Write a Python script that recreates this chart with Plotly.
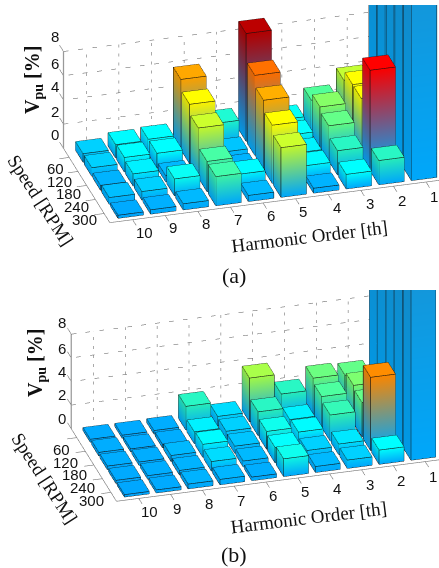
import numpy as np
import plotly.graph_objects as go

W, H = 439, 568

harmonics = [1, 2, 3, 4, 5, 6, 7, 8, 9, 10]
speeds = [60, 120, 180, 240, 300]
z_ticks = [0, 2, 4, 6, 8]

# heights per harmonic, listed for speeds 60,120,180,240,300
a_h1 = [100, 100, 100, 100, 100]
a_h2 = [4.0, 4.8, 4.8, 8.3, 2.0]
a_h3 = [2.7, 3.3, 2.9, 2.0, 1.2]
a_h4 = [1.4, 1.3, 1.0, 1.1, 0.4]
a_h5 = [8.9, 6.6, 5.7, 4.8, 4.1]
a_h6 = [1.8, 0.6, 0.4, 1.1, 0.5]
a_h7 = [5.8, 4.9, 4.1, 2.5, 2.4]
a_h8 = [1.2, 1.2, 0.5, 1.4, 0.5]
a_h9 = [1.1, 1.2, 1.0, 0.7, 0.35]
a_h10 = [0.7, 0.7, 0.4, 0.55, 0.25]

b_h1 = [100, 100, 100, 100, 100]
b_h2 = [2.9, 3.2, 2.9, 6.2, 1.2]
b_h3 = [3.0, 2.6, 2.2, 0.9, 0.7]
b_h4 = [2.0, 1.0, 1.1, 0.7, 0.5]
b_h5 = [3.7, 2.0, 1.5, 1.3, 1.5]
b_h6 = [0.8, 0.7, 0.6, 0.5, 0.3]
b_h7 = [2.0, 1.0, 1.1, 0.8, 0.45]
b_h8 = [0.3, 0.3, 0.5, 0.4, 0.4]
b_h9 = [0.25, 0.25, 0.3, 0.3, 0.25]
b_h10 = [0.25, 0.3, 0.3, 0.25, 0.2]

panel_a = [a_h1, a_h2, a_h3, a_h4, a_h5, a_h6, a_h7, a_h8, a_h9, a_h10]
panel_b = [b_h1, b_h2, b_h3, b_h4, b_h5, b_h6, b_h7, b_h8, b_h9, b_h10]

Z_TOP = 18.0
STOPS = [0, 0.5, 0.8, 1.2, 2.0, 2.7, 3.3, 4.0, 4.8, 5.7, 6.6, 8.3, 9.0]
RGB = [(0, 150, 255), (0, 180, 255), (0, 215, 255), (0, 255, 255), (40, 240, 190), (80, 250, 150),
       (130, 255, 100), (190, 250, 50), (255, 255, 0), (255, 170, 0), (255, 110, 0),
       (255, 0, 0), (170, 0, 0)]
BOTTOM = (0, 170, 255)
OVER = (25, 150, 215)


def top_color(v):
    if v > 20:
        return OVER
    return tuple(float(np.interp(v, STOPS, [c[i] for c in RGB])) for i in range(3))


def css(c, f=1.0):
    return "rgb(%d,%d,%d)" % tuple(min(255, int(round(v * f))) for v in c)


def bar_traces(panel):
    xs, ys, zs, cols, I, J, K = [], [], [], [], [], [], []
    ex, ey, ez = [], [], []
    hw, dw = 0.39, 0.43
    for hi, hv in enumerate(harmonics):
        for si in range(len(speeds)):
            v = panel[hi][si]
            t = min(v, Z_TOP)
            cx, cy = hv, si + 1
            x0, x1, y0, y1 = cx - hw, cx + hw, cy - dw, cy + dw
            tc = top_color(v)
            faces = [
                ([(x0, y1, 0), (x1, y1, 0), (x1, y1, t), (x0, y1, t)], 0.98, True),
                ([(x1, y0, 0), (x1, y1, 0), (x1, y1, t), (x1, y0, t)], 0.90, True),
                ([(x0, y0, 0), (x0, y1, 0), (x0, y1, t), (x0, y0, t)], 0.90, True),
                ([(x0, y0, t), (x1, y0, t), (x1, y1, t), (x0, y1, t)], 1.03, False),
            ]
            for verts, f, grad in faces:
                b = len(xs)
                for (px, py, pz) in verts:
                    xs.append(px); ys.append(py); zs.append(pz)
                    c = BOTTOM if (grad and pz == 0) else tc
                    cols.append(css(c, f))
                I += [b, b]; J += [b + 1, b + 2]; K += [b + 2, b + 3]
            corners = [(x0, y0), (x1, y0), (x1, y1), (x0, y1)]
            for n in range(4):
                a, c = corners[n], corners[(n + 1) % 4]
                ex += [a[0], c[0], None]; ey += [a[1], c[1], None]; ez += [t, t, None]
                ex += [a[0], c[0], None]; ey += [a[1], c[1], None]; ez += [0, 0, None]
                ex += [a[0], a[0], None]; ey += [a[1], a[1], None]; ez += [0, t, None]
    mesh = go.Mesh3d(x=xs, y=ys, z=zs, i=I, j=J, k=K, vertexcolor=cols, flatshading=True,
                     lighting=dict(ambient=1, diffuse=0, specular=0, roughness=1, fresnel=0),
                     hoverinfo="skip", showscale=False)
    edges = go.Scatter3d(x=ex, y=ey, z=ez, mode="lines", line=dict(color="#101010", width=1.2),
                         hoverinfo="skip", showlegend=False)
    return [mesh, edges]


def frame_traces():
    xmin, xmax, ymin, ymax = 0.5, 10.7, 0.35, 5.65
    gx, gy, gz = [], [], []
    for tz in z_ticks[1:]:
        gx += [xmax, xmin, None]; gy += [ymin, ymin, None]; gz += [tz, tz, None]
    for hv in harmonics:
        gx += [hv, hv, None]; gy += [ymin, ymin, None]; gz += [0, z_ticks[-1], None]
    grid = go.Scatter3d(x=gx, y=gy, z=gz, mode="lines", line=dict(color="#555555", width=1, dash="dot"),
                        hoverinfo="skip", showlegend=False)
    ax, ay, az = [], [], []
    ax += [xmin, xmax, None]; ay += [ymax, ymax, None]; az += [0, 0, None]
    ax += [xmax, xmax, None]; ay += [ymin, ymax, None]; az += [0, 0, None]
    for hv in harmonics:
        ax += [hv, hv, None]; ay += [ymax, ymax + 0.4, None]; az += [0, 0, None]
    for si in range(len(speeds)):
        ax += [xmax, xmax + 0.3, None]; ay += [si + 1, si + 1, None]; az += [0, 0, None]
    for tz in z_ticks:
        ax += [xmax, xmax, None]; ay += [ymin, ymin - 0.45, None]; az += [tz, tz, None]
    axes = go.Scatter3d(x=ax, y=ay, z=az, mode="lines", line=dict(color="#777777", width=1.2),
                        hoverinfo="skip", showlegend=False)
    zline = go.Scatter3d(x=[xmax, xmax], y=[ymin, ymin], z=[0, z_ticks[-1]], mode="lines",
                         line=dict(color="#999999", width=2.5), hoverinfo="skip", showlegend=False)
    return [grid, axes, zline]


PX_PER_UNIT = 135.0


def scene_layout(dom_y, shift, zoom):
    a, e = np.radians(15.8), np.radians(27.0)
    T = np.array([np.sin(a), np.cos(a), 0.0])
    R = np.array([-np.cos(a), np.sin(a), 0.0])
    U = -np.sin(e) * T + np.array([0, 0, np.cos(e)])
    view = T * np.cos(e) + np.array([0, 0, np.sin(e)])
    c = -R * shift[0] / PX_PER_UNIT + U * shift[1] / PX_PER_UNIT
    d = view * 2.0
    hidden = dict(visible=False, showgrid=False, zeroline=False, showspikes=False)
    return dict(
        domain=dict(x=[0, 1], y=[1 - dom_y[1] / H, 1 - dom_y[0] / H]),
        bgcolor="white",
        aspectmode="manual",
        aspectratio=dict(x=11.5 * 0.1 * zoom, y=7.0 * 0.0947 * zoom, z=Z_TOP * 0.0401 * zoom),
        xaxis=dict(range=[0, 11.5], **hidden),
        yaxis=dict(range=[-0.5, 6.5], **hidden),
        zaxis=dict(range=[0, Z_TOP], **hidden),
        camera=dict(projection=dict(type="orthographic"), up=dict(x=0, y=0, z=1),
                    center=dict(x=float(c[0]), y=float(c[1]), z=float(c[2])),
                    eye=dict(x=float(c[0] + d[0]), y=float(c[1] + d[1]), z=float(c[2] + d[2]))),
    )


fig = go.Figure()
for scene_id, panel in (("scene", panel_a), ("scene2", panel_b)):
    for tr in bar_traces(panel) + frame_traces():
        tr.scene = scene_id
        fig.add_trace(tr)

anns = []


def label(text, px, py, size=15, family="Liberation Sans", angle=0):
    anns.append(dict(text=text, x=px / W, y=1 - py / H, xref="paper", yref="paper", showarrow=False,
                     xanchor="center", yanchor="middle", textangle=angle,
                     font=dict(family=family, size=size, color="#111111")))


def panel_labels(z_pos, s_pos, h_pos, title_pos, speed_pos, v_pos, cap, cap_pos):
    for v, p in zip(z_ticks, z_pos):
        label(str(v), *p)
    for v, p in zip(speeds, s_pos):
        label(str(v), *p)
    for v, p in zip(harmonics, h_pos):
        label(str(v), *p)
    label("Harmonic Order [th]", *title_pos, size=19, family="Liberation Serif", angle=-7)
    label("Speed [RPM]", *speed_pos, size=19, family="Liberation Serif", angle=57)
    label("<b>V<sub>pu</sub> [%]</b>", *v_pos, size=20, family="Liberation Serif", angle=-90)
    label(cap, *cap_pos, size=22, family="Liberation Serif")


panel_labels([(55, 135), (55, 112), (55, 87), (55, 63), (55, 37)],
             [(55, 168), (59, 181), (68, 193), (76, 206), (84, 219)],
             [(434, 196), (402, 200), (370, 204), (337, 208), (303, 212), (271, 215), (238, 219), (206, 223), (173, 227), (144, 232)],
             (309, 237), (41, 200), (33, 80), "(a)", (234, 275))
panel_labels([(62, 418), (62, 394), (62, 371), (62, 348), (62, 322)],
             [(61, 449), (65, 462), (74, 474), (82, 487), (91, 500)],
             [(433, 476), (401, 480), (370, 484), (337, 488), (305, 491), (273, 496), (241, 500), (209, 503), (177, 508), (149, 511)],
             (308, 517), (45, 478), (36, 363), "(b)", (234, 554))

fig.update_layout(
    width=W, height=H, margin=dict(l=0, r=0, t=0, b=0), paper_bgcolor="white", showlegend=False,
    annotations=anns,
    scene=scene_layout((5, 285), (27.5, -86), 2.42),
    scene2=scene_layout((290, 568), (31, -88), 2.38),
)

fig.write_html("out.html", config=dict(displayModeBar=False),
               post_script="document.body.style.margin='0';document.body.style.overflow='hidden';")
